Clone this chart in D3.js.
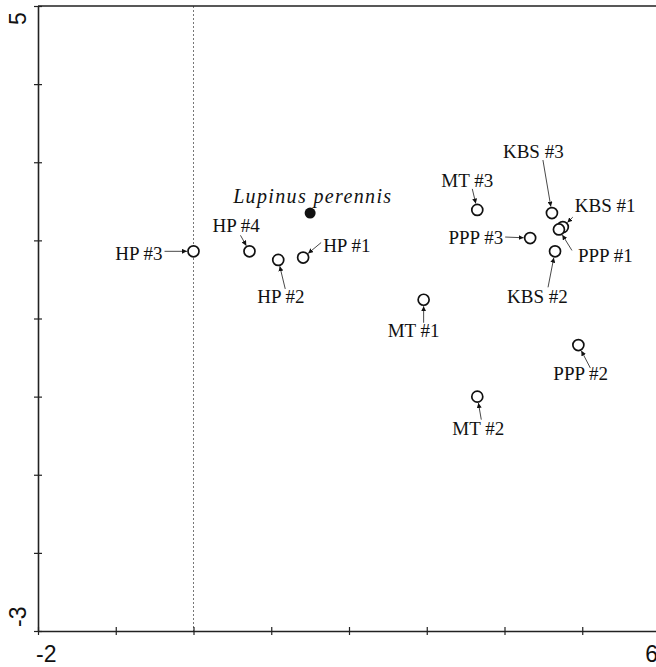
<!DOCTYPE html>
<html>
<head>
<meta charset="utf-8">
<script src="https://cdn.jsdelivr.net/npm/d3@7"></script>
<style>
    body { margin: 0; background: #fff; }
    .site { font-family: "Liberation Serif", "Times New Roman", serif; font-size: 19px; fill: #111; }
    .tickLabel { font-family: "Liberation Sans", Arial, sans-serif; font-size: 23px; fill: #111; }
</style>
</head>
<body>
<svg id="chart" width="656" height="667"></svg>
<script>
// ordination scores
var sites  = ['HP #1', 'HP #2', 'HP #3', 'HP #4', 'MT #1', 'MT #2', 'MT #3',
              'KBS #1', 'KBS #2', 'KBS #3', 'PPP #1', 'PPP #2', 'PPP #3'];
var axis1  = [1.41, 1.09, 0.00, 0.72, 2.96, 3.65, 3.65, 4.75, 4.65, 4.61, 4.70, 4.95, 4.33];
var axis2  = [1.78, 1.75, 1.86, 1.86, 1.24, 0.00, 2.39, 2.17, 1.86, 2.35, 2.14, 0.66, 2.03];

// the species itself (filled dot)
var speciesName = ['Lupinus perennis'];
var speciesX = [1.50];
var speciesY = [2.35];

var xDomain = [-2, 6];
var yDomain = [-3, 5];
var xTickLabels = [-2, 6];
var yTickLabels = [5, -3];

// where each label sits, relative to its point (pixels): text dx,dy, anchor, leader start dx,dy
var labelLayout = {
    'HP #3':  [-31, 9, 'end', -29, 0],
    'HP #4':  [-37, -19, 'start', -9, -16],
    'HP #1':  [20, -6, 'start', 18, -15],
    'HP #2':  [-21, 43, 'start', 7, 29],
    'MT #3':  [-36, -23, 'start', -5, -21],
    'PPP #3': [-27, 6, 'end', -25, -1],
    'KBS #3': [-49, -55, 'start', -9, -53],
    'KBS #1': [12, -15, 'start', 10, -10],
    'PPP #1': [19, 33, 'start', 13, 21],
    'KBS #2': [-48, 52, 'start', -7, 36],
    'MT #1':  [-36, 37, 'start', 0, 23],
    'MT #2':  [-25, 38, 'start', 4, 23],
    'PPP #2': [-25, 35, 'start', 12, 23]
};

var plotL = 38, plotR = 660, plotT = 6, plotB = 631;
var r = 5.5;

var svg = d3.select('#chart');

var x = d3.scaleLinear().domain(xDomain).range([plotL, plotR]);
var y = d3.scaleLinear().domain(yDomain).range([plotB, plotT]);

// arrow head for the leader lines
svg.append('defs').append('marker')
    .attr('id', 'arrow')
    .attr('viewBox', '0 0 10 10')
    .attr('refX', 10).attr('refY', 5)
    .attr('markerWidth', 5).attr('markerHeight', 5)
    .attr('markerUnits', 'userSpaceOnUse')
    .attr('orient', 'auto')
    .append('path')
    .attr('d', 'M0,0L10,5L0,10z')
    .attr('fill', '#111');

// dotted zero line
svg.append('line')
    .attr('x1', x(0)).attr('x2', x(0))
    .attr('y1', plotT).attr('y2', plotB)
    .attr('stroke', '#777')
    .attr('stroke-width', 1)
    .attr('stroke-dasharray', '2,2');

// frame: top and right edges
svg.append('path')
    .attr('d', 'M' + plotL + ',' + plotT + 'H' + plotR + 'V' + plotB)
    .attr('fill', 'none')
    .attr('stroke', '#222')
    .attr('stroke-width', 1.6);

// axes with ticks that cross the line
var xAxis = svg.append('g')
    .attr('transform', 'translate(0,' + plotB + ')')
    .call(d3.axisBottom(x).ticks(8).tickSizeOuter(0).tickFormat(''));
var yAxis = svg.append('g')
    .attr('transform', 'translate(' + plotL + ',0)')
    .call(d3.axisLeft(y).ticks(8).tickSizeOuter(0).tickFormat(''));

[xAxis, yAxis].forEach(function(g) {
    g.select('.domain').attr('stroke', '#222').attr('stroke-width', 1.6);
    g.selectAll('.tick line').attr('stroke', '#222').attr('stroke-width', 1.2);
});
xAxis.selectAll('.tick line').attr('y1', -4).attr('y2', 4);
yAxis.selectAll('.tick line').attr('x1', -4).attr('x2', 4);

// only the end values are labelled
svg.selectAll('.xLab')
    .data(xTickLabels)
    .enter().append('text')
    .attr('class', 'tickLabel')
    .attr('x', function(d) { return x(d) - 2; })
    .attr('y', plotB + 31)
    .style('text-anchor', function(d, i) { return i === 0 ? 'start' : 'end'; })
    .text(function(d) { return d; });

svg.selectAll('.yLab')
    .data(yTickLabels)
    .enter().append('text')
    .attr('class', 'tickLabel')
    .attr('transform', function(d, i) {
        var py = i === 0 ? y(d) + 19 : y(d) - 4;
        return 'translate(26,' + py + ') rotate(-90)';
    })
    .style('text-anchor', 'start')
    .text(function(d) { return d; });

// site points
var pts = sites.map(function(s, i) {
    return { name: s, px: x(axis1[i]), py: y(axis2[i]), lay: labelLayout[s] };
});

// leader lines, stopped at the circle edge
svg.selectAll('.leader')
    .data(pts)
    .enter().append('line')
    .attr('class', 'leader')
    .each(function(d) {
        var sx = d.px + d.lay[3], sy = d.py + d.lay[4];
        var dx = d.px - sx, dy = d.py - sy;
        var len = Math.sqrt(dx * dx + dy * dy);
        d3.select(this)
            .attr('x1', sx).attr('y1', sy)
            .attr('x2', d.px - dx / len * (r + 1))
            .attr('y2', d.py - dy / len * (r + 1));
    })
    .attr('stroke', '#333')
    .attr('stroke-width', 0.9)
    .attr('marker-end', 'url(#arrow)');

svg.selectAll('.pt')
    .data(pts)
    .enter().append('circle')
    .attr('cx', function(d) { return d.px; })
    .attr('cy', function(d) { return d.py; })
    .attr('r', r)
    .attr('fill', '#fff')
    .attr('stroke', '#111')
    .attr('stroke-width', 1.7);

svg.selectAll('.site')
    .data(pts)
    .enter().append('text')
    .attr('class', 'site')
    .attr('x', function(d) { return d.px + d.lay[0]; })
    .attr('y', function(d) { return d.py + d.lay[1]; })
    .style('text-anchor', function(d) { return d.lay[2]; })
    .text(function(d) { return d.name; });

// Lupinus perennis
svg.selectAll('.species')
    .data(speciesName)
    .enter().append('circle')
    .attr('cx', function(d, i) { return x(speciesX[i]); })
    .attr('cy', function(d, i) { return y(speciesY[i]); })
    .attr('r', r)
    .attr('fill', '#111');

// the italic name is set wider in the original
svg.selectAll('.speciesLab')
    .data(speciesName)
    .enter().append('text')
    .attr('class', 'site')
    .attr('x', function(d, i) { return x(speciesX[i]) - 77; })
    .attr('y', function(d, i) { return y(speciesY[i]) - 10; })
    .attr('textLength', 158)
    .attr('lengthAdjust', 'spacing')
    .style('font-style', 'italic')
    .style('font-size', '20px')
    .text(function(d) { return d; });
</script>
</body>
</html>
